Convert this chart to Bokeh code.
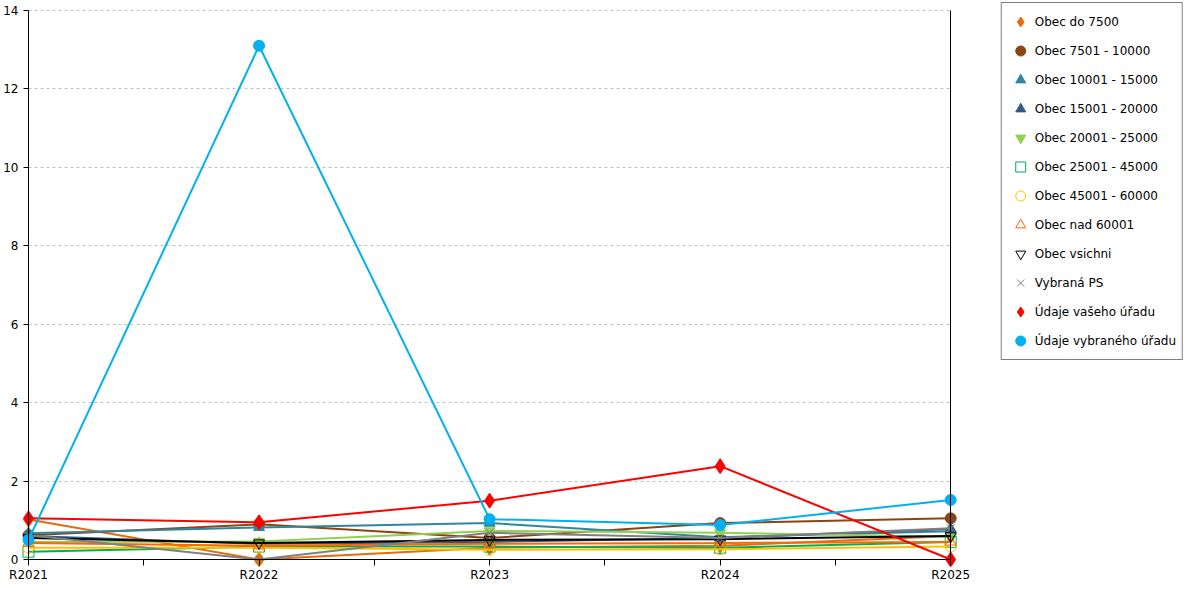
from bokeh.plotting import figure
from bokeh.models import (Range1d, FixedTicker, Legend, LegendItem, LinearAxis, BoxAnnotation)
from bokeh.embed import file_html
from bokeh.resources import INLINE

categories = ["R2021", "R2022", "R2023", "R2024", "R2025"]

series_names = [
    "Obec do 7500", "Obec 7501 - 10000", "Obec 10001 - 15000", "Obec 15001 - 20000",
    "Obec 20001 - 25000", "Obec 25001 - 45000", "Obec 45001 - 60000", "Obec nad 60001",
    "Obec vsichni", "Vybraná PS", "Údaje vašeho úřadu", "Údaje vybraného úřadu",
]

obec_do_7500 = [1.02, 0.0, 0.30, 0.35, 0.60]
obec_7501_10000 = [0.62, 0.90, 0.55, 0.93, 1.05]
obec_10001_15000 = [0.67, 0.82, 0.93, 0.57, 0.72]
obec_15001_20000 = [0.60, 0.40, 0.45, 0.55, 0.78]
obec_20001_25000 = [0.45, 0.46, 0.73, 0.68, 0.58]
obec_25001_45000 = [0.20, 0.33, 0.33, 0.30, 0.45]
obec_45001_60000 = [0.30, 0.30, 0.25, 0.26, 0.33]
obec_nad_60001 = [0.42, 0.35, 0.40, 0.42, 0.45]
obec_vsichni = [0.55, 0.42, 0.50, 0.52, 0.60]
vybrana_ps = [0.62, 0.0, 0.68, 0.55, 0.80]
udaje_vaseho = [1.05, 0.95, 1.50, 2.38, 0.0]
udaje_vybraneho = [0.50, 13.10, 1.03, 0.88, 1.52]

series_values = [
    obec_do_7500, obec_7501_10000, obec_10001_15000, obec_15001_20000,
    obec_20001_25000, obec_25001_45000, obec_45001_60000, obec_nad_60001,
    obec_vsichni, vybrana_ps, udaje_vaseho, udaje_vybraneho,
]

y_ticks = [0, 2, 4, 6, 8, 10, 12, 14]
x_ticks = [0, 0.5, 1, 1.5, 2, 2.5, 3, 3.5, 4]

# styles: (color, marker, filled)
styles = [
    ("#E46C0A", "diamond", True),
    ("#8B4513", "circle", True),
    ("#31859C", "triangle", True),
    ("#2E5A8C", "triangle", True),
    ("#92D050", "inverted_triangle", True),
    ("#00B050", "square", False),
    ("#FFC000", "circle", False),
    ("#FF6600", "triangle", False),
    ("#000000", "inverted_triangle", False),
    ("#808080", "x", False),
    ("#FF0000", "diamond", True),
    ("#00B0F0", "circle", True),
]

FONT = "DejaVu Sans"

# layout geometry (pixels)
W, H = 1184, 584
BL, BR, BT, BB = 20, 1, 2, 15
FW, FH = W - BL - BR, H - BT - BB
X0_PX, X4_PX = 7, 930          # x=0 and x=4 offsets from frame left
Y0_PX, Y14_PX = 7, 559         # y=0 and y=14 offsets from frame bottom
sx = (X4_PX - X0_PX) / 4.0
sy = (Y14_PX - Y0_PX) / 14.0
x_range = Range1d(-X0_PX / sx, (FW - X0_PX) / sx)
y_range = Range1d(-Y0_PX / sy, (FH - Y0_PX) / sy)

p = figure(width=W, height=H, output_backend="svg", toolbar_location=None,
           x_range=x_range, y_range=y_range,
           min_border_left=BL, min_border_right=BR, min_border_top=BT,
           min_border_bottom=BB)
p.outline_line_color = None
p.background_fill_color = "white"

# grid
p.xgrid.grid_line_color = None
g = p.ygrid[0]
g.grid_line_color = "#C0C0C0"
g.grid_line_dash = "3 3"
g.ticker = FixedTicker(ticks=y_ticks[1:])
if "cross_bounds" in g.properties():
    g.cross_bounds = (0, 4)
else:
    p.add_layout(BoxAnnotation(left=4.04, fill_color="white", fill_alpha=1.0,
                               line_color=None, level="underlay"))

xs = list(range(len(categories)))
items = []
for name, vals, (color, marker, filled) in zip(series_names, series_values, styles):
    p.line(xs, vals, line_color=color, line_width=2)
    if marker == "diamond":
        r = p.scatter(xs, vals, marker="diamond", size=15, fill_color=color, line_color=color)
    elif marker == "x":
        r = p.scatter(xs, vals, marker="x", size=11, line_color=color, line_width=1)
    elif filled:
        r = p.scatter(xs, vals, marker=marker, size=11, fill_color=color, line_color=color)
    else:
        r = p.scatter(xs, vals, marker=marker, size=11, fill_color=None, line_color=color,
                      line_width=1)
    items.append(LegendItem(label=name, renderers=[r]))

# label-only axes at the frame edges
p.xaxis.ticker = FixedTicker(ticks=list(range(len(categories))))
p.xaxis.major_label_overrides = {i: c for i, c in enumerate(categories)}
p.yaxis.ticker = FixedTicker(ticks=y_ticks)
for ax in (p.xaxis[0], p.yaxis[0]):
    ax.minor_tick_line_color = None
    ax.major_tick_line_color = None
    ax.axis_line_color = None
    ax.major_tick_in = 0
    ax.major_tick_out = 0
    ax.major_label_text_font = FONT
    ax.major_label_text_font_size = "12px"
    ax.major_label_text_color = "#000000"
p.xaxis.major_label_standoff = 1
p.yaxis.major_label_standoff = 3

# axis lines and ticks at the data zero lines
def line_axis(loc, bounds, ticks, tick_out):
    a = LinearAxis(fixed_location=loc, bounds=bounds, ticker=FixedTicker(ticks=ticks),
                   major_label_overrides={t: "" for t in ticks},
                   axis_line_color="black", major_tick_line_color="black",
                   minor_tick_line_color=None, major_tick_in=0, major_tick_out=tick_out)
    return a

p.add_layout(line_axis(0, (0, 4), x_ticks, 6), "below")
p.add_layout(line_axis(0, (0, 14), y_ticks, 5), "left")
right_line = line_axis(4, (0, 14), [], 0)
p.add_layout(right_line, "left")

legend = Legend(items=items, location="top_right", margin=0, padding=6,
                spacing=4, glyph_width=25, glyph_height=25, label_standoff=2,
                label_text_font=FONT, label_text_font_size="12px",
                label_text_color="#000000", border_line_color="black",
                border_line_width=1, background_fill_alpha=1)
p.add_layout(legend)

open("out.html", "w").write(file_html(p, INLINE))
